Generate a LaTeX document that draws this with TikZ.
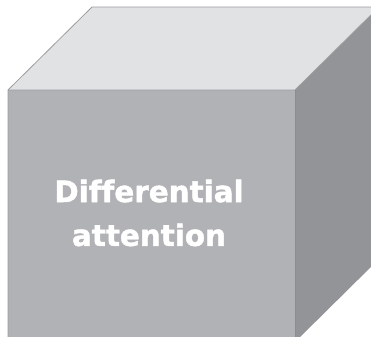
\documentclass[tikz,border=0pt]{standalone}
\usepackage{fontspec}
\usepackage{xcolor}
\usepackage{tikz}
\newfontfamily\cubefont[Ligatures=NoCommon,BoldFeatures={FakeBold=1.5}]{DejaVu Sans}
\definecolor{CubeTop}{HTML}{E1E2E4}
\definecolor{CubeFront}{HTML}{B1B2B6}
\definecolor{CubeSide}{HTML}{939498}
\definecolor{CubeEdge}{HTML}{9C9DA0}
\begin{document}
\begin{tikzpicture}[x=1bp,y=-1bp]
\path[use as bounding box] (0,0) rectangle (371,337);
\clip (0,0) rectangle (371,337);
\fill[CubeTop] (8,90) -- (92,7) -- (379,7) -- (295,90) -- cycle;
\fill[CubeFront] (8,90) rectangle (295,342);
\fill[CubeSide] (295,90) -- (379,7) -- (379,259) -- (295,342) -- cycle;
\draw[CubeEdge,line width=0.8bp] (8,342) -- (8,90) -- (92,7) -- (379,7);
\draw[CubeEdge,line width=0.8bp] (8,90) -- (295,90) -- (379,7);
\draw[CubeEdge!90!black,line width=0.6bp] (295,90) -- (295,342);
\node[align=center,text=white,font=\cubefont\bfseries\fontsize{29.5}{44}\selectfont] (title) at (149,213) {Differential\\attention};
\end{tikzpicture}
\end{document}
